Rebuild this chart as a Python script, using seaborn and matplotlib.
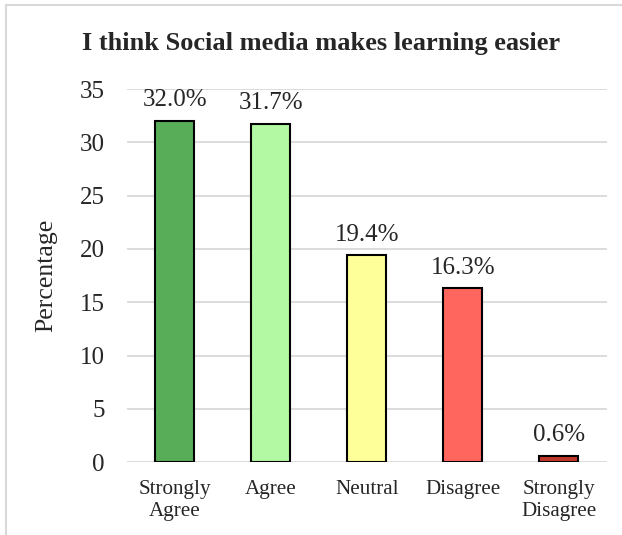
import matplotlib
matplotlib.use("Agg")
import matplotlib.pyplot as plt
import seaborn as sns
import pandas as pd
from matplotlib.lines import Line2D

categories = ["Strongly\nAgree", "Agree", "Neutral", "Disagree", "Strongly\nDisagree"]
values = [32.0, 31.7, 19.4, 16.3, 0.6]
colors = ["#58AE58", "#B3F9A3", "#FFFF99", "#FF665E", "#C0392B"]
yticks = [0, 5, 10, 15, 20, 25, 30, 35]

sns.set_theme(style="white")
plt.rcParams["font.family"] = ["Liberation Serif", "DejaVu Serif"]

df = pd.DataFrame({"Response": categories, "Percentage": values})

fig = plt.figure(figsize=(6.22, 5.35), dpi=100)
ax = fig.add_axes([0.2038, 0.1359, 0.7717, 0.6977])

sns.barplot(data=df, x="Response", y="Percentage", hue="Response",
            palette=colors, saturation=1, legend=False, width=0.41,
            edgecolor="black", linewidth=1.5, ax=ax, zorder=3)

ax.set_ylim(0, 35)
ax.set_yticks(yticks)
ax.set_yticklabels([str(t) for t in yticks], fontsize=18)
ax.tick_params(axis="y", length=0, pad=16)
ax.tick_params(axis="x", length=0, pad=13, labelsize=15.2)
ax.yaxis.grid(True, color="#D9D9D9", linewidth=1.3, zorder=0)
ax.set_axisbelow(True)
for s in ax.spines.values():
    s.set_visible(False)
ax.set_xlabel("")
ax.set_ylabel("Percentage", fontsize=18.5, labelpad=16)

for cont in ax.containers:
    ax.bar_label(cont, labels=[f"{v:.1f}%" for v in cont.datavalues],
                 padding=7, fontsize=18)

fig.text(0.516, 1 - 50 / 535, "I think Social media makes learning easier",
         ha="center", va="baseline", fontsize=19, fontweight="bold")

# chart frame
fig.add_artist(Line2D([0.009, 0.009], [0, 0.9915], transform=fig.transFigure,
                      color="#D9D9D9", linewidth=1.5))
fig.add_artist(Line2D([0.009, 1.0], [0.9915, 0.9915], transform=fig.transFigure,
                      color="#D9D9D9", linewidth=1.5))

fig.savefig("out.png", dpi=100)
